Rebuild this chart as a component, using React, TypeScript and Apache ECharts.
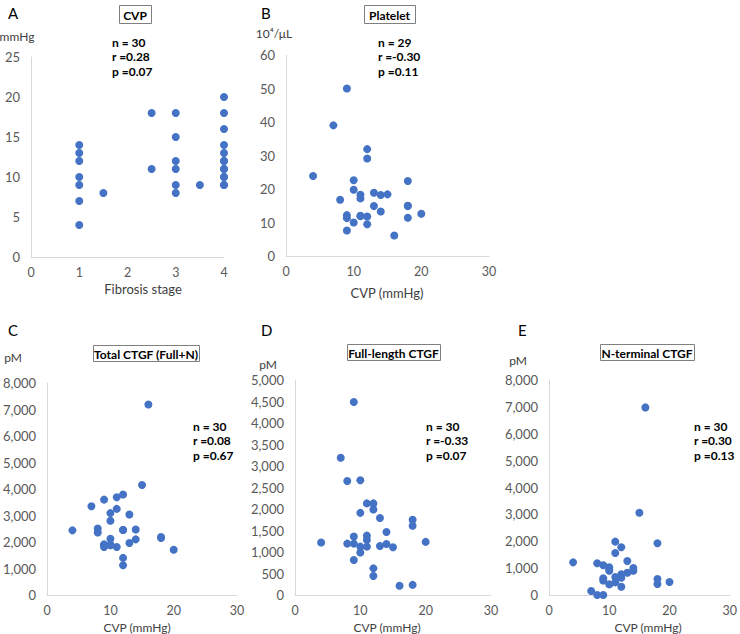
import React, { useEffect, useRef } from "react";
import * as echarts from "echarts";

// Panel A: CVP vs fibrosis stage
const aFibrosis = [1, 1, 1, 1, 1, 1, 1, 1.5, 2.5, 2.5, 3, 3, 3, 3, 3, 3, 3.5, 4, 4, 4, 4, 4, 4, 4, 4, 4, 4, 4, 4, 4];
const aCvp = [14, 13, 12, 10, 9, 7, 4, 8, 18, 11, 18, 15, 12, 11, 9, 8, 9, 20, 18, 16, 14, 13, 12, 11, 10, 9, 10, 12, 9, 11];

// Panel B: Platelet vs CVP
const bCvp = [9, 7, 12, 12, 4, 10, 18, 10, 11, 11, 13, 14, 15, 8, 13, 18, 14, 9, 9, 11, 12, 20, 18, 10, 12, 9, 16, 18, 11];
const bPlatelet = [50, 39, 31.9, 29.1, 23.9, 22.6, 22.4, 19.8, 18.3, 17.2, 18.9, 18.2, 18.4, 16.8, 14.9, 14.9, 13.3, 12.2, 11.3, 11.9, 11.8, 12.6, 11.4, 10, 9.5, 7.6, 6.1, 15, 12];

// Panel C: Total CTGF vs CVP
const cCvp = [16, 15, 7, 9, 11, 12, 11, 10, 13, 10, 4, 8, 8, 12, 14, 18, 10, 14, 9, 9, 10, 11, 13, 20, 12, 12, 18, 9, 10, 12];
const cTotal = [7190, 4150, 3350, 3600, 3690, 3790, 3250, 3090, 3040, 2800, 2440, 2510, 2360, 2450, 2470, 2190, 2120, 2100, 1910, 1810, 1880, 1810, 1960, 1710, 1400, 1120, 2150, 1880, 1900, 2450];

// Panel D: Full-length CTGF vs CVP
const dCvp = [9, 7, 8, 10, 11, 12, 12, 10, 13, 18, 18, 14, 9, 11, 11, 4, 8, 9, 14, 20, 10, 11, 13, 15, 10, 9, 12, 12, 16, 18];
const dFull = [4490, 3190, 2650, 2670, 2130, 2130, 1990, 1910, 1790, 1750, 1610, 1465, 1360, 1380, 1280, 1220, 1195, 1195, 1185, 1235, 1125, 1125, 1140, 1110, 990, 815, 620, 440, 215, 235];

// Panel E: N-terminal CTGF vs CVP
const eCvp = [16, 15, 11, 12, 18, 11, 4, 8, 9, 10, 10, 13, 14, 14, 13, 12, 12, 11, 9, 9, 11, 10, 12, 18, 18, 20, 7, 8, 9, 10];
const eNterm = [6980, 3060, 1985, 1775, 1925, 1565, 1215, 1180, 1105, 1030, 905, 1265, 1005, 905, 830, 770, 645, 670, 620, 535, 470, 395, 310, 595, 410, 485, 150, 0, 0, 950];

const statsA = ["n = 30", "r =0.28", "p =0.07"];
const statsB = ["n = 29", "r =-0.30", "p =0.11"];
const statsC = ["n = 30", "r =0.08", "p =0.67"];
const statsD = ["n = 30", "r =-0.33", "p =0.07"];
const statsE = ["n = 30", "r =0.30", "p =0.13"];

const FONT = "Lato, 'Open Sans', sans-serif";
const TICK = "#595959";
const AXIS = "#d9d9d9";
const DOT = "#4472C4";

function pairs(xs: number[], ys: number[]) {
  return xs.map((x, i) => [x, ys[i]]);
}

export default function App() {
  const ref = useRef<HTMLDivElement>(null);
  useEffect(() => {
    if (!ref.current) return;
    const chart = echarts.init(ref.current, undefined, { renderer: "svg" });

    const grids = [
      { left: 31, top: 57, width: 193, height: 200 },
      { left: 286, top: 55, width: 203, height: 201 },
      { left: 41, top: 383, width: 196, height: 212 },
      { left: 295, top: 380, width: 196, height: 215 },
      { left: 549, top: 380, width: 185, height: 215 },
    ];

    const fmt = (v: number) => v.toLocaleString("en-US");
    const xAxisBase = (i: number, max: number, interval: number) => ({
      type: "value",
      gridIndex: i,
      min: 0,
      max,
      interval,
      axisLine: { show: true, lineStyle: { color: AXIS, width: 1 } },
      axisTick: { show: false },
      splitLine: { show: false },
      axisLabel: { color: TICK, fontFamily: FONT, fontSize: 12.5, margin: 9 },
    });
    const yAxisBase = (i: number, max: number, interval: number) => ({
      type: "value",
      gridIndex: i,
      min: 0,
      max,
      interval,
      axisLine: { show: true, lineStyle: { color: AXIS, width: 1 } },
      axisTick: { show: false },
      splitLine: { show: false },
      axisLabel: { color: TICK, fontFamily: FONT, fontSize: 13, margin: 11, formatter: fmt },
    });

    const series = [
      pairs(aFibrosis, aCvp),
      pairs(bCvp, bPlatelet),
      pairs(cCvp, cTotal),
      pairs(dCvp, dFull),
      pairs(eCvp, eNterm),
    ].map((d, i) => ({
      type: "scatter",
      xAxisIndex: i,
      yAxisIndex: i,
      data: d,
      symbol: "circle",
      symbolSize: 8,
      itemStyle: { color: DOT, opacity: 1 },
    }));

    const txt = (x: number, y: number, s: string, opt: any = {}) => ({
      type: "text",
      x,
      y,
      style: {
        text: s,
        fontFamily: FONT,
        fontSize: opt.size || 12,
        fontWeight: opt.bold ? "bold" : "normal",
        fill: opt.color || "#404040",
        align: opt.align || "left",
        verticalAlign: "middle",
      },
    });
    const box = (x1: number, y1: number, x2: number, y2: number, s: string) => [
      {
        type: "rect",
        shape: { x: x1 + 0.5, y: y1 + 0.5, width: x2 - x1, height: y2 - y1 },
        style: { fill: "#fff", stroke: "#7f7f7f", lineWidth: 1 },
      },
      txt((x1 + x2) / 2, (y1 + y2) / 2 + 1, s, { bold: true, color: "#000", align: "center", size: 12 }),
    ];
    const stats = (x: number, y: number, lines: string[]) =>
      lines.map((l, i) => txt(x, y + i * 14.5, l, { bold: true, color: "#000", size: 12 }));

    const graphic: any[] = [
      // A
      txt(8, 13, "A", { size: 15, color: "#000" }),
      ...box(119, 5, 151, 23, "CVP"),
      txt(17, 36, "mmHg", { align: "center", size: 12 }),
      ...stats(112, 42, statsA),
      txt(143, 289, "Fibrosis stage", { align: "center", size: 13 }),
      // B
      txt(261, 13, "B", { size: 15, color: "#000" }),
      ...box(364, 5, 415, 23, "Platelet"),
      txt(274, 33, "10⁴/μL", { align: "center", size: 12 }),
      ...stats(378, 42, statsB),
      txt(387, 293, "CVP (mmHg)", { align: "center", size: 13 }),
      // C
      txt(8, 330, "C", { size: 15, color: "#000" }),
      ...box(93, 345, 199, 361, "Total CTGF (Full+N)"),
      txt(13, 357, "pM", { align: "center", size: 12 }),
      ...stats(193, 426, statsC),
      txt(137, 627, "CVP (mmHg)", { align: "center", size: 12 }),
      // D
      txt(261, 330, "D", { size: 15, color: "#000" }),
      ...box(347, 344, 440, 360, "Full-length CTGF"),
      txt(268, 364, "pM", { align: "center", size: 12 }),
      ...stats(426, 426, statsD),
      txt(387, 627, "CVP (mmHg)", { align: "center", size: 12 }),
      // E
      txt(518, 330, "E", { size: 15, color: "#000" }),
      ...box(600, 344, 694, 360, "N-terminal CTGF"),
      txt(518, 360, "pM", { align: "center", size: 12 }),
      ...stats(694, 426, statsE),
      txt(648, 627, "CVP (mmHg)", { align: "center", size: 12 }),
    ];

    chart.setOption({
      animation: false,
      backgroundColor: "#ffffff",
      grid: grids,
      xAxis: [
        xAxisBase(0, 4, 1),
        xAxisBase(1, 30, 10),
        xAxisBase(2, 30, 10),
        xAxisBase(3, 30, 10),
        xAxisBase(4, 30, 10),
      ],
      yAxis: [
        yAxisBase(0, 25, 5),
        yAxisBase(1, 60, 10),
        yAxisBase(2, 8000, 1000),
        yAxisBase(3, 5000, 500),
        yAxisBase(4, 8000, 1000),
      ],
      series,
      graphic,
    });
    return () => chart.dispose();
  }, []);
  return (
    <div
      ref={ref}
      style={{ position: "fixed", left: 0, top: 0, width: 740, height: 634 }}
    />
  );
}
